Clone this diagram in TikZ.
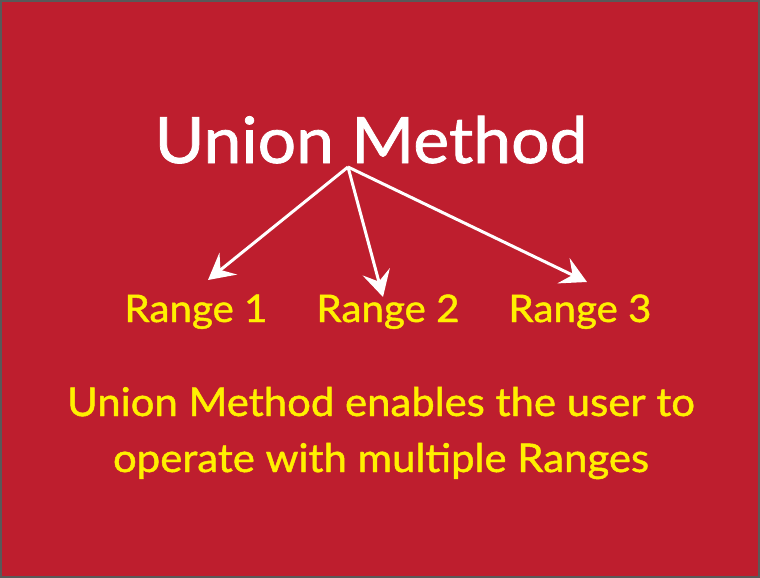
\documentclass[tikz,border=0pt]{standalone}
\usepackage{fontspec}
\setmainfont{Lato}[FakeStretch=1.06, FakeBold=1.2]
\usetikzlibrary{arrows.meta}

\definecolor{bgred}{RGB}{190,30,46}
\definecolor{txtyellow}{RGB}{255,240,0}

\tikzstyle{heading} = [text=white, anchor=base, inner sep=0pt, font=\fontsize{64}{64}\selectfont]
\tikzstyle{rangelabel} = [text=txtyellow, anchor=base, inner sep=0pt, font=\fontsize{38}{38}\selectfont]
\tikzstyle{notetext} = [text=txtyellow, anchor=base, inner sep=0pt, align=center, font=\fontsize{39.5}{56}\selectfont]
\tikzstyle{link} = [draw=white, line width=3pt, -{Stealth[length=26pt, width=28pt, inset=10pt]}]

\begin{document}
\begin{tikzpicture}[x=1pt, y=-1pt]
        \useasboundingbox (0,0) rectangle (760,578);
        % background
        \fill[bgred] (0,0) rectangle (760,578);
        \draw[gray!70!black, line width=2pt] (1,1) rectangle (759,577);
        % title and split point
        \node (title) at (371,163) [heading] {Union Method};
        \coordinate (split) at (348,167);
        % ranges
        \node (r1) at (196,322) [rangelabel] {Range 1};
        \node (r2) at (388,322) [rangelabel] {Range 2};
        \node (r3) at (580,322) [rangelabel] {Range 3};
        \coordinate (t1) at (208,280);
        \coordinate (t2) at (383,297);
        \coordinate (t3) at (587,282);
        % arrows
        \draw[link] (split) -- (t1);
        \draw[link] (split) -- (t2);
        \draw[link] (split) -- (t3);
        % note
        \node (note) at (381,472) [notetext] {Union Method enables the user to\\operate with multiple Ranges};
    \end{tikzpicture}
\end{document}
